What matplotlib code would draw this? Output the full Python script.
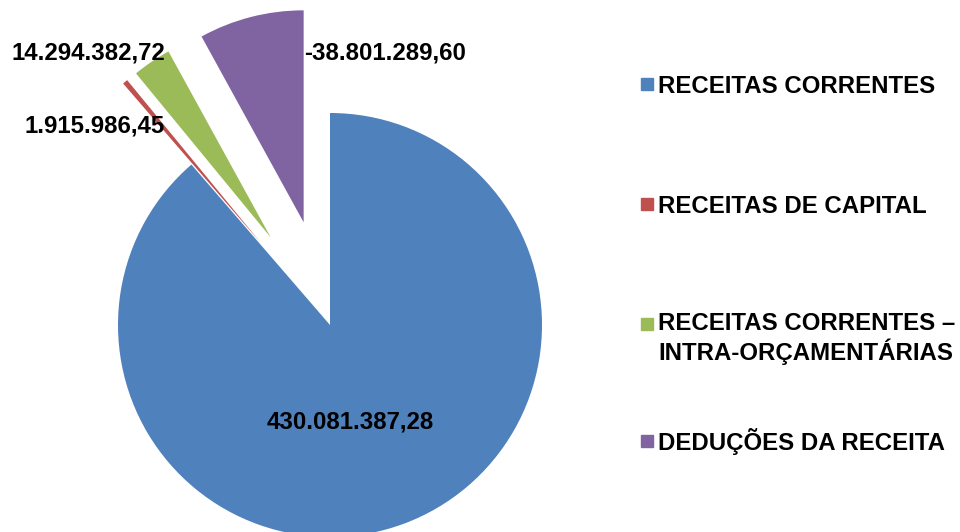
import matplotlib.pyplot as plt
from matplotlib.patches import Rectangle

plt.rcParams['font.family'] = ['Liberation Sans', 'DejaVu Sans']

categorias = ['RECEITAS CORRENTES', 'RECEITAS DE CAPITAL',
              'RECEITAS CORRENTES –\nINTRA-ORÇAMENTÁRIAS', 'DEDUÇÕES DA RECEITA']
valores = [430081387.28, 1915986.45, 14294382.72, -38801289.60]
rotulos = ['430.081.387,28', '1.915.986,45', '14.294.382,72', '-38.801.289,60']
cores = ['#4F81BD', '#C0504D', '#9BBB59', '#8064A2']

W, H = 960, 532
fig = plt.figure(figsize=(W / 100, H / 100), dpi=100)
ax = fig.add_axes([0, 0, 1, 1])

# pie drawn with absolute values (deduction shown as its magnitude)
tamanhos = [abs(v) for v in valores]
ax.pie(tamanhos, colors=cores, startangle=90, counterclock=False,
       explode=[0, 0.5, 0.5, 0.5], radius=1,
       wedgeprops=dict(linewidth=0))

r = 212.0
cx, cy = 330, 325
ax.set_xlim(-cx / r, (W - cx) / r)
ax.set_ylim(-(H - cy) / r, cy / r)
ax.set_aspect('equal')
ax.axis('off')

# value labels (pixel positions from top-left)
pos_rot = [(350, 428), (95, 132), (88, 60), (385, 60)]
for txt, (px, py) in zip(rotulos, pos_rot):
    fig.text(px / W, 1 - py / H, txt, ha='center', va='baseline',
             fontsize=17.3, fontweight='bold')

# legend: baseline of first line of each entry
leg_y = [93, 213, 333, 450]
for cat, cor, by in zip(categorias, cores, leg_y):
    fig.patches.append(Rectangle((641 / W, 1 - (by - 3) / H), 12 / W, 12 / H,
                                 transform=fig.transFigure, color=cor))
    ultima = by + 27 * cat.count('\n')
    fig.text(658 / W, 1 - ultima / H, cat, ha='left', va='baseline',
             fontsize=17.3, fontweight='bold', linespacing=1.15)

plt.savefig('out.png', dpi=100)
